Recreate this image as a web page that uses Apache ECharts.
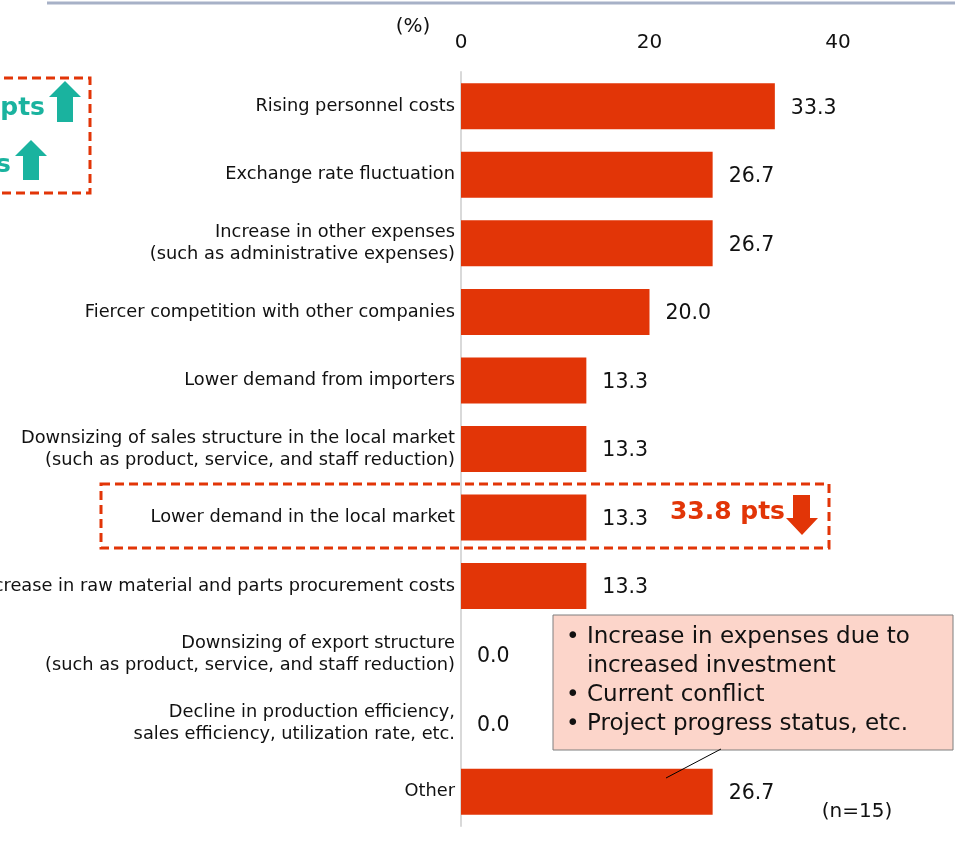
<!DOCTYPE html>
<html>
<head>
<meta charset="utf-8">
<script src="https://cdn.jsdelivr.net/npm/echarts@6/dist/echarts.min.js"></script>
<style>
html,body{margin:0;padding:0;background:#fff;}
#chart{width:955px;height:845px;}
</style>
</head>
<body>
<div id="chart"></div>
<script>
var categories = [
  'Rising personnel costs',
  'Exchange rate fluctuation',
  'Increase in other expenses\n(such as administrative expenses)',
  'Fiercer competition with other companies',
  'Lower demand from importers',
  'Downsizing of sales structure in the local market\n(such as product, service, and staff reduction)',
  'Lower demand in the local market',
  'Increase in raw material and parts procurement costs',
  'Downsizing of export structure\n(such as product, service, and staff reduction)',
  'Decline in production efficiency,\nsales efficiency, utilization rate, etc.',
  'Other'
];
var values = [33.3, 26.7, 26.7, 20.0, 13.3, 13.3, 13.3, 13.3, 0.0, 0.0, 26.7];
var axisTicks = [0, 20, 40];
var unitLabel = '(%)';
var sampleNote = '(n=15)';
var highlightDown = '33.8 pts';
var highlightUpA = 'pts';
var highlightUpB = 's';
var otherNoteBullets = '•\n\n•\n•';
var otherNoteText = 'Increase in expenses due to\nincreased investment\nCurrent conflict\nProject progress status, etc.';

var FONT = 'DejaVu Sans';
var RED = '#E23507';
var TEAL = '#1AB39F';

var chart = echarts.init(document.getElementById('chart'));
chart.setOption({
  backgroundColor: '#ffffff',
  animation: false,
  grid: { left: 461, right: 117, top: 72, bottom: 19, containLabel: false, outerBoundsMode: 'none' },
  xAxis: {
    type: 'value', position: 'top',
    min: axisTicks[0], max: axisTicks[axisTicks.length - 1], interval: axisTicks[1] - axisTicks[0],
    axisLine: { show: false }, axisTick: { show: false }, splitLine: { show: false },
    axisLabel: { fontFamily: FONT, fontSize: 20, color: '#111', margin: 19 }
  },
  yAxis: {
    type: 'category', inverse: true, data: categories,
    axisLine: { show: true, lineStyle: { color: '#D9D9D9', width: 2 } },
    axisTick: { show: false },
    axisLabel: { fontFamily: FONT, fontSize: 17.8, color: '#111', margin: 6, lineHeight: 22, align: 'right' }
  },
  series: [{
    type: 'bar', data: values, barWidth: 46,
    itemStyle: { color: RED },
    label: {
      show: true, position: 'right', distance: 16, offset: [0, 2],
      fontFamily: FONT, fontSize: 20.5, color: '#111',
      formatter: function (p) { return p.value.toFixed(1); }
    }
  }],
  graphic: [
    { type: 'line', z: 100, shape: { x1: 47, y1: 3, x2: 955, y2: 3 }, style: { stroke: '#A7B1C7', lineWidth: 3 } },
    { type: 'text', z: 100, x: 413, y: 27, style: { text: unitLabel, font: '20px "DejaVu Sans"', fill: '#111', textAlign: 'center', textVerticalAlign: 'middle' } },
    { type: 'rect', z: 100, shape: { x: -10, y: 78, width: 100, height: 115 }, style: { fill: 'none', stroke: RED, lineWidth: 3, lineDash: [9, 5] } },
    { type: 'text', z: 100, x: 45, y: 108, style: { text: highlightUpA, font: 'bold 25px "DejaVu Sans"', fill: TEAL, textAlign: 'right', textVerticalAlign: 'middle' } },
    { type: 'polygon', z: 100, shape: { points: [[49, 97], [65, 81], [81, 97], [73, 97], [73, 122], [57, 122], [57, 97]] }, style: { fill: TEAL } },
    { type: 'text', z: 100, x: 11, y: 165, style: { text: highlightUpB, font: 'bold 25px "DejaVu Sans"', fill: TEAL, textAlign: 'right', textVerticalAlign: 'middle' } },
    { type: 'polygon', z: 100, shape: { points: [[15, 156], [31, 140], [47, 156], [39, 156], [39, 180], [23, 180], [23, 156]] }, style: { fill: TEAL } },
    { type: 'rect', z: 100, shape: { x: 101, y: 484, width: 728, height: 64 }, style: { fill: 'none', stroke: RED, lineWidth: 3, lineDash: [9, 5] } },
    { type: 'text', z: 100, x: 785, y: 512, style: { text: highlightDown, font: 'bold 25px "DejaVu Sans"', fill: RED, textAlign: 'right', textVerticalAlign: 'middle' } },
    { type: 'polygon', z: 100, shape: { points: [[793, 495], [810, 495], [810, 518], [818, 518], [802, 535], [786, 518], [793, 518]] }, style: { fill: RED } },
    { type: 'rect', z: 100, shape: { x: 553, y: 615, width: 400, height: 135 }, style: { fill: '#FCD5CA', stroke: '#7F7F7F', lineWidth: 1 } },
    { type: 'text', z: 101, x: 566, y: 623, style: { text: otherNoteBullets, font: '23px "DejaVu Sans"', fill: '#111', lineHeight: 29, textAlign: 'left', textVerticalAlign: 'top' } },
    { type: 'text', z: 101, x: 587, y: 623, style: { text: otherNoteText, font: '23px "DejaVu Sans"', fill: '#111', lineHeight: 29, textAlign: 'left', textVerticalAlign: 'top' } },
    { type: 'line', z: 100, shape: { x1: 721, y1: 749, x2: 666, y2: 778 }, style: { stroke: '#000', lineWidth: 1 } },
    { type: 'text', z: 100, x: 857, y: 812, style: { text: sampleNote, font: '20px "DejaVu Sans"', fill: '#111', textAlign: 'center', textVerticalAlign: 'middle' } }
  ]
});
</script>
</body>
</html>
